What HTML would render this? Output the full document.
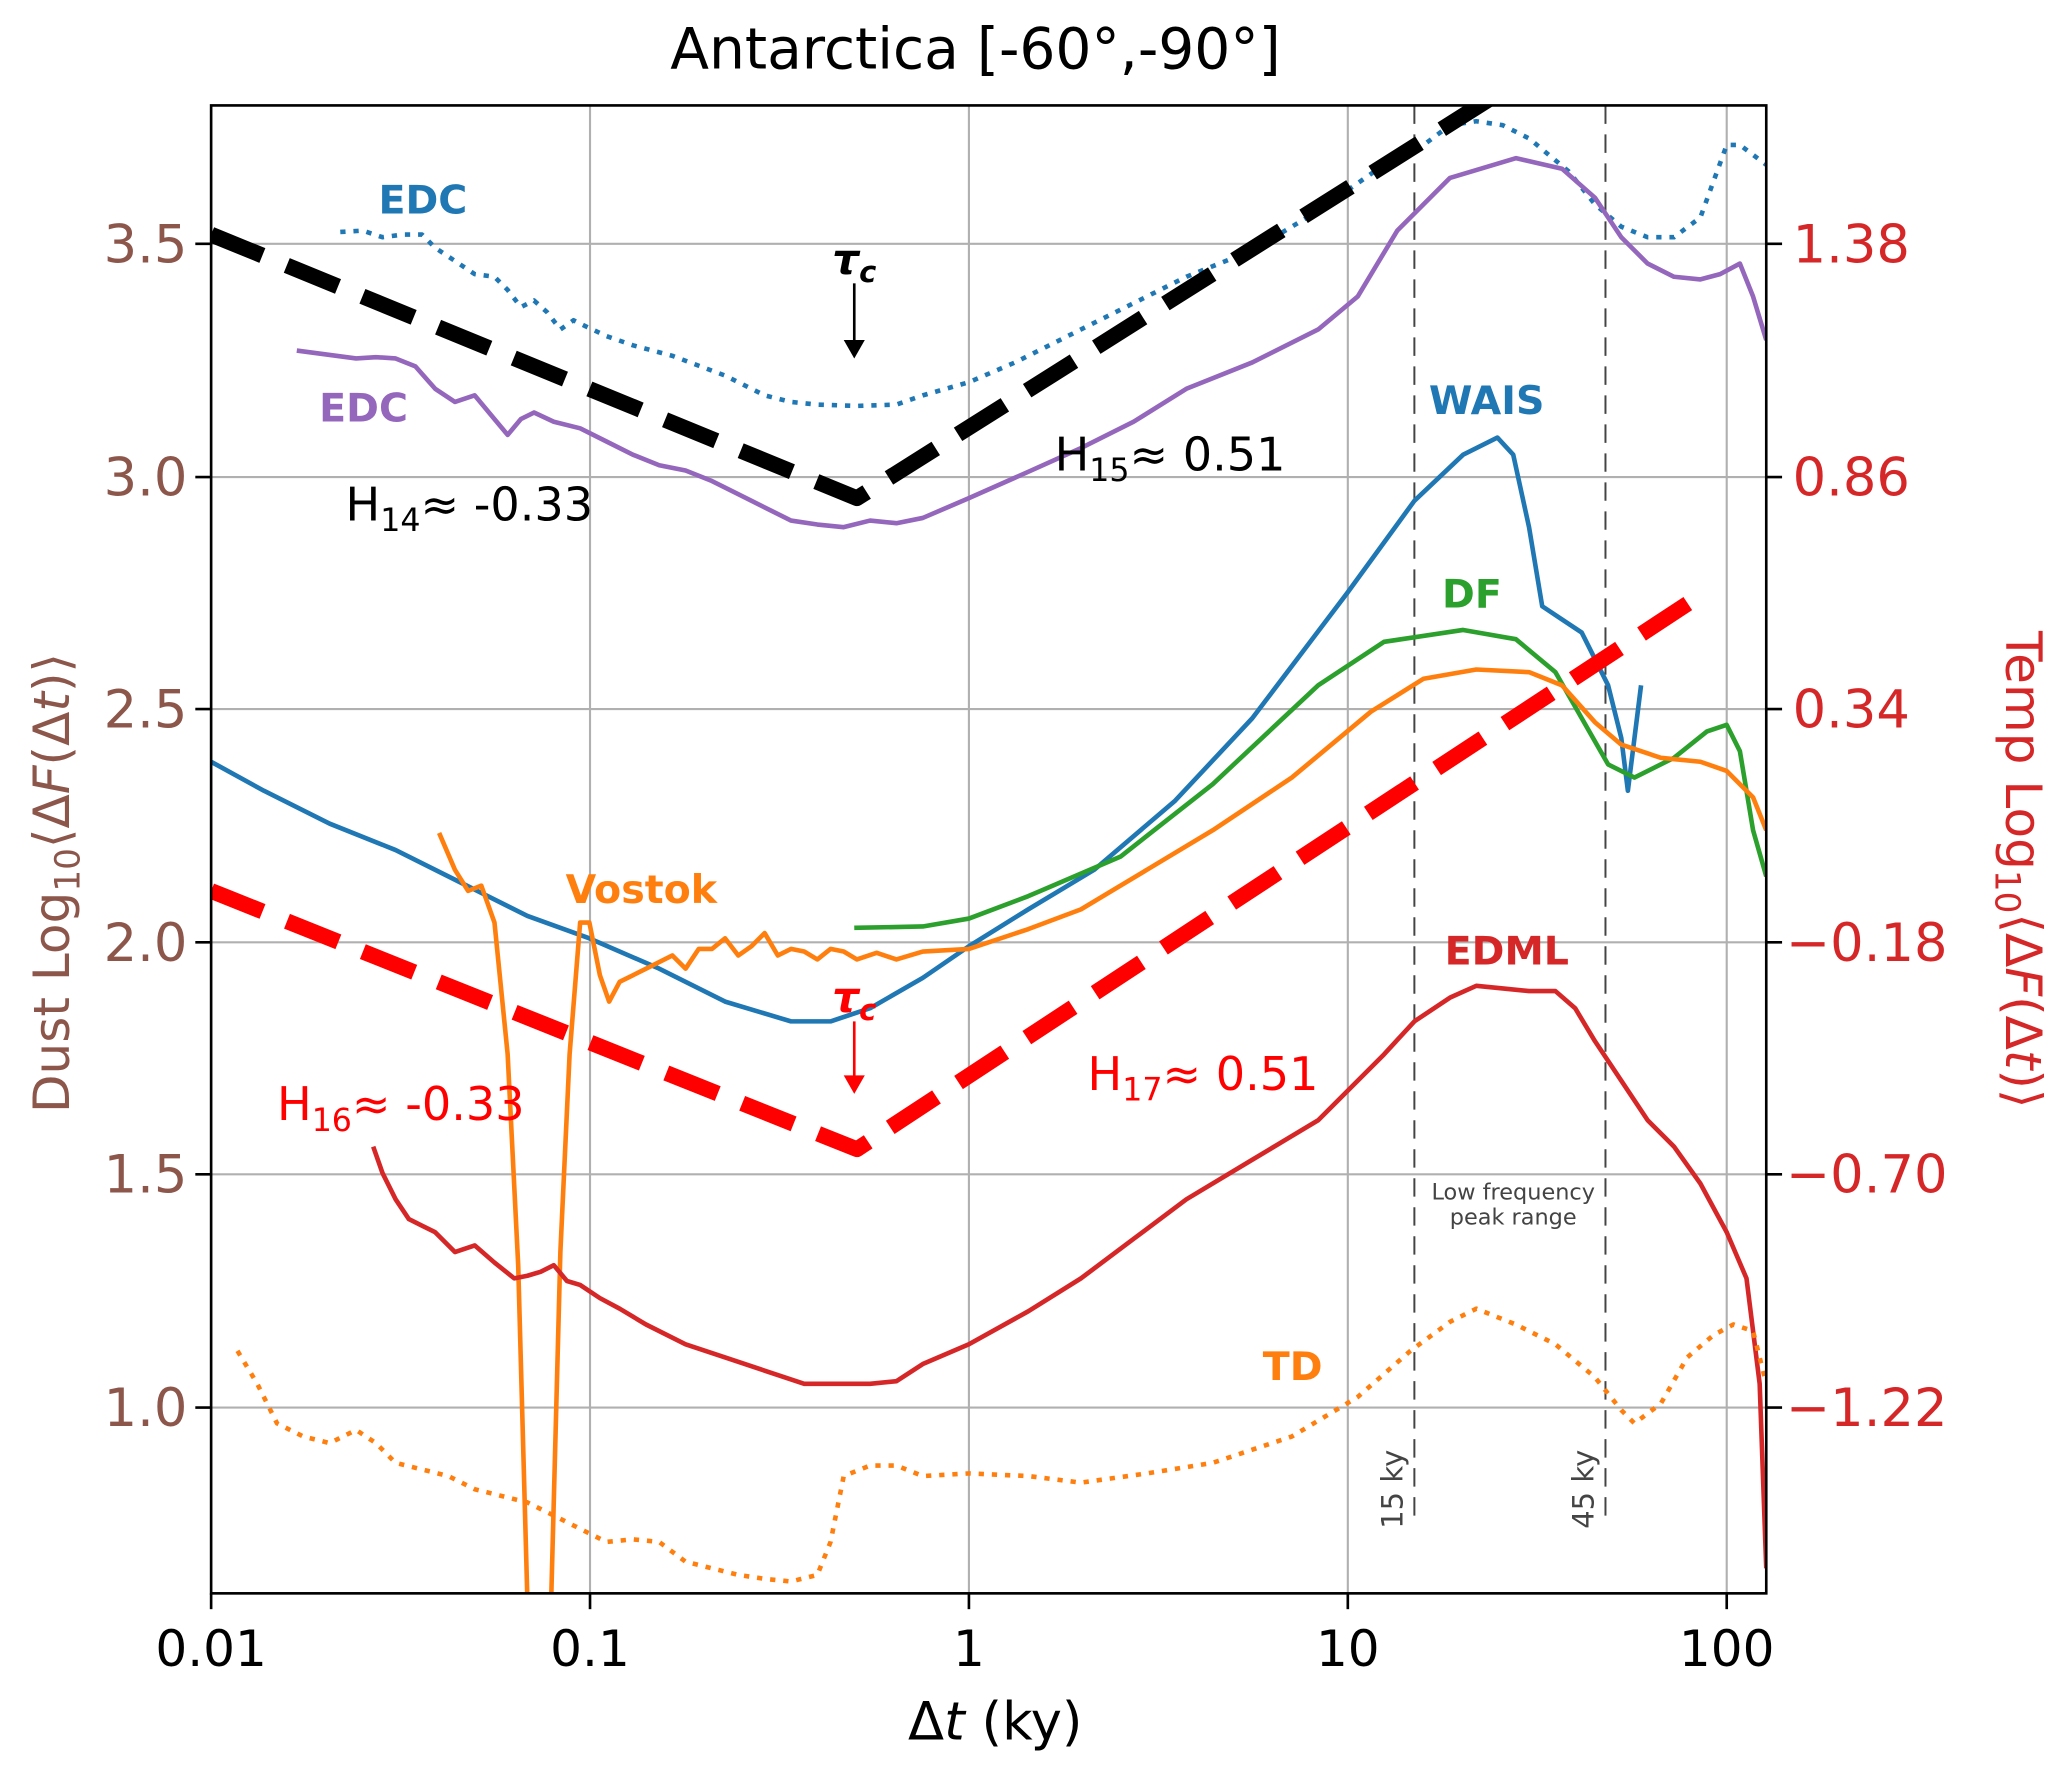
<!DOCTYPE html>
<html><head><meta charset="utf-8"><style>html,body{margin:0;padding:0;background:#fff}</style></head><body>
<svg width="2067" height="1766" viewBox="0 0 1568 1340" xmlns="http://www.w3.org/2000/svg" font-family="DejaVu Sans, Liberation Sans, sans-serif">
<rect width="1568" height="1340" fill="#fff"/>
<defs><clipPath id="c"><rect x="160" y="80" width="1180" height="1129"/></clipPath></defs>
<g stroke="#b0b0b0" stroke-width="1.6">
<line x1="447.5" y1="80" x2="447.5" y2="1209"/><line x1="735" y1="80" x2="735" y2="1209"/><line x1="1022.5" y1="80" x2="1022.5" y2="1209"/><line x1="1310" y1="80" x2="1310" y2="1209"/>
<line x1="160" y1="185" x2="1340" y2="185"/><line x1="160" y1="362" x2="1340" y2="362"/><line x1="160" y1="538" x2="1340" y2="538"/><line x1="160" y1="715" x2="1340" y2="715"/><line x1="160" y1="891" x2="1340" y2="891"/><line x1="160" y1="1068" x2="1340" y2="1068"/>
</g>
<g clip-path="url(#c)" fill="none" stroke-linejoin="round">
<line x1="1073" y1="80" x2="1073" y2="1150" stroke="#444" stroke-width="1.5" stroke-dasharray="14,8"/>
<line x1="1218" y1="80" x2="1218" y2="1150" stroke="#444" stroke-width="1.5" stroke-dasharray="14,8"/>
<polyline stroke="#1f77b4" stroke-width="3.5" stroke-dasharray="4,6" points="258,176 275,175 290,180 305,178 320,178 330,188 345,198 360,208 375,210 385,220 395,233 405,228 415,237 425,250 435,243 445,248 460,255 480,262 510,270 550,285 580,300 600,305 620,307 650,308 680,307 700,300 735,290 770,275 800,260 850,235 900,210 950,190 1000,160 1050,125 1080,110 1100,95 1120,92 1140,95 1160,105 1190,130 1210,155 1230,172 1250,180 1270,180 1290,165 1310,110 1320,110 1340,125"/>
<polyline stroke="#9467bd" stroke-width="3.5" points="225,266 240,268 255,270 270,272 285,271 300,272 315,278 330,295 345,305 360,300 375,318 385,330 395,318 405,313 420,320 440,325 460,335 480,345 500,353 520,357 540,365 560,375 580,385 600,395 620,398 640,400 660,395 680,397 700,393 735,378 780,358 820,340 860,320 900,295 950,275 1000,250 1030,225 1060,175 1100,135 1150,120 1185,128 1210,150 1230,180 1250,200 1270,210 1290,212 1305,208 1320,200 1330,225 1340,258"/>
<polyline stroke="#1f77b4" stroke-width="3.5" points="160,578 200,600 250,625 300,645 350,670 400,695 447,712 500,735 550,760 600,775 630,775 660,765 700,742 735,718 780,690 830,660 891,608 950,545 1022,450 1073,380 1110,345 1136,332 1148,345 1160,400 1170,460 1185,470 1200,480 1210,500 1220,520 1230,560 1235,600 1240,560 1245,520"/>
<polyline stroke="#2ca02c" stroke-width="3.5" points="648,704 700,703 735,697 780,680 850,650 920,595 1000,520 1050,487 1110,478 1150,485 1180,510 1200,545 1220,580 1240,590 1270,575 1295,555 1310,550 1320,570 1330,630 1340,665"/>
<polyline stroke="#ff7f0e" stroke-width="3.5" points="333,632 345,660 355,676 365,672 375,700 385,800 393,960 400,1215 418,1215 425,950 432,800 440,700 447,700 455,740 462,760 470,745 480,740 490,735 500,730 510,725 520,735 530,720 540,720 550,712 560,725 570,718 580,708 590,725 600,720 610,722 620,728 630,720 640,722 650,728 665,723 680,728 700,722 735,720 780,705 820,690 870,660 920,630 980,590 1040,540 1080,515 1120,508 1160,510 1185,520 1210,548 1230,565 1260,575 1290,578 1310,585 1330,605 1340,630"/>
<polyline stroke="#d62728" stroke-width="3.5" points="283,870 290,890 300,910 310,925 320,930 330,935 345,950 360,945 375,958 390,970 400,968 410,965 420,960 430,972 440,975 455,985 470,993 490,1005 520,1020 550,1030 580,1040 610,1050 630,1050 660,1050 680,1048 700,1035 735,1020 780,995 820,970 860,940 900,910 950,880 1000,850 1050,800 1073,775 1100,757 1120,748 1140,750 1160,752 1180,752 1195,765 1210,790 1230,820 1250,850 1270,870 1290,898 1310,935 1325,970 1335,1050 1340,1190"/>
<polyline stroke="#ff7f0e" stroke-width="3.5" stroke-dasharray="4,6" points="180,1025 195,1050 210,1080 230,1090 250,1095 270,1085 285,1095 300,1110 320,1115 340,1120 360,1130 380,1135 400,1140 420,1150 440,1160 460,1170 480,1168 500,1170 520,1185 540,1190 560,1195 580,1198 600,1200 620,1195 630,1170 640,1120 660,1112 680,1112 700,1120 735,1118 780,1120 820,1125 870,1118 920,1110 980,1090 1030,1060 1070,1025 1100,1003 1120,993 1150,1005 1180,1020 1210,1045 1230,1070 1240,1080 1260,1065 1280,1030 1300,1013 1315,1005 1330,1010 1340,1050"/>
<polyline stroke="#000" stroke-width="12" stroke-dasharray="42,20" points="160,178 650,378 1135,72"/>
<polyline stroke="#ff0000" stroke-width="12" stroke-dasharray="42,20" points="160,676 650,872 1285,455"/>
</g>
<rect x="160" y="80" width="1180" height="1129" fill="none" stroke="#000" stroke-width="2"/>
<g stroke="#000" stroke-width="2">
<line x1="160" y1="1209" x2="160" y2="1221"/><line x1="447.5" y1="1209" x2="447.5" y2="1221"/><line x1="735" y1="1209" x2="735" y2="1221"/><line x1="1022.5" y1="1209" x2="1022.5" y2="1221"/><line x1="1310" y1="1209" x2="1310" y2="1221"/>
<line x1="148" y1="185" x2="160" y2="185"/><line x1="148" y1="362" x2="160" y2="362"/><line x1="148" y1="538" x2="160" y2="538"/><line x1="148" y1="715" x2="160" y2="715"/><line x1="148" y1="891" x2="160" y2="891"/><line x1="148" y1="1068" x2="160" y2="1068"/>
<line x1="1340" y1="185" x2="1352" y2="185"/><line x1="1340" y1="362" x2="1352" y2="362"/><line x1="1340" y1="538" x2="1352" y2="538"/><line x1="1340" y1="715" x2="1352" y2="715"/><line x1="1340" y1="891" x2="1352" y2="891"/><line x1="1340" y1="1068" x2="1352" y2="1068"/>
</g>
<text x="740" y="52" font-size="43" text-anchor="middle">Antarctica [-60°,-90°]</text>
<g font-size="38" text-anchor="middle"><text x="160" y="1264">0.01</text><text x="447.5" y="1264">0.1</text><text x="735" y="1264">1</text><text x="1022.5" y="1264">10</text><text x="1310" y="1264">100</text></g>
<text x="755" y="1320" font-size="40" text-anchor="middle">Δ<tspan font-style="italic">t</tspan> (ky)</text>
<g font-size="40" text-anchor="end" fill="#8c564b"><text x="142" y="199">3.5</text><text x="142" y="376">3.0</text><text x="142" y="552">2.5</text><text x="142" y="729">2.0</text><text x="142" y="905">1.5</text><text x="142" y="1082">1.0</text></g>
<g font-size="40" fill="#d62728"><text x="1360" y="199">1.38</text><text x="1360" y="376">0.86</text><text x="1360" y="552">0.34</text><text x="1355" y="729">−0.18</text><text x="1355" y="905">−0.70</text><text x="1355" y="1082">−1.22</text></g>
<text transform="translate(52,670) rotate(-90)" font-size="38" fill="#8c564b" text-anchor="middle">Dust  Log<tspan font-size="26" dy="8">10</tspan><tspan dy="-8">⟨Δ<tspan font-style="italic">F</tspan>(Δ<tspan font-style="italic">t</tspan>)⟩</tspan></text>
<text transform="translate(1522,660) rotate(90)" font-size="38" fill="#d62728" text-anchor="middle">Temp Log<tspan font-size="26" dy="8">10</tspan><tspan dy="-8">⟨Δ<tspan font-style="italic">F</tspan>(Δ<tspan font-style="italic">t</tspan>)⟩</tspan></text>
<g font-weight="bold" font-size="30">
<text x="287" y="162" fill="#1f77b4">EDC</text>
<text x="242" y="320" fill="#9467bd">EDC</text>
<text x="1084" y="314" fill="#1f77b4">WAIS</text>
<text x="1094" y="461" fill="#2ca02c">DF</text>
<text x="429" y="685" fill="#ff7f0e">Vostok</text>
<text x="1096" y="732" fill="#d62728">EDML</text>
<text x="958" y="1047" fill="#ff7f0e">TD</text>
</g>
<g font-size="35">
<text x="262" y="395">H<tspan font-size="24" dy="8">14</tspan><tspan dy="-8">≈ -0.33</tspan></text>
<text x="800" y="357">H<tspan font-size="24" dy="8">15</tspan><tspan dy="-8">≈ 0.51</tspan></text>
<text x="210" y="850" fill="#ff0000">H<tspan font-size="24" dy="8">16</tspan><tspan dy="-8">≈ -0.33</tspan></text>
<text x="825" y="827" fill="#ff0000">H<tspan font-size="24" dy="8">17</tspan><tspan dy="-8">≈ 0.51</tspan></text>
</g>
<text x="648" y="208" font-size="32" font-weight="bold" font-style="italic" text-anchor="middle">τ<tspan font-size="22" dy="6">c</tspan></text>
<line x1="648" y1="215" x2="648" y2="262" stroke="#000" stroke-width="2"/><polygon points="640,258 656,258 648,272" fill="#000"/>
<text x="648" y="768" font-size="32" font-weight="bold" font-style="italic" text-anchor="middle" fill="#ff0000">τ<tspan font-size="22" dy="6">c</tspan></text>
<line x1="648" y1="775" x2="648" y2="820" stroke="#ff0000" stroke-width="2"/><polygon points="640,816 656,816 648,830" fill="#ff0000"/>
<g font-size="17" fill="#444" text-anchor="middle"><text x="1148" y="910">Low frequency</text><text x="1148" y="929">peak range</text></g>
<g font-size="22" fill="#444"><text transform="translate(1064,1160) rotate(-90)">15 ky</text><text transform="translate(1209,1160) rotate(-90)">45 ky</text></g>
</svg>
</body></html>
